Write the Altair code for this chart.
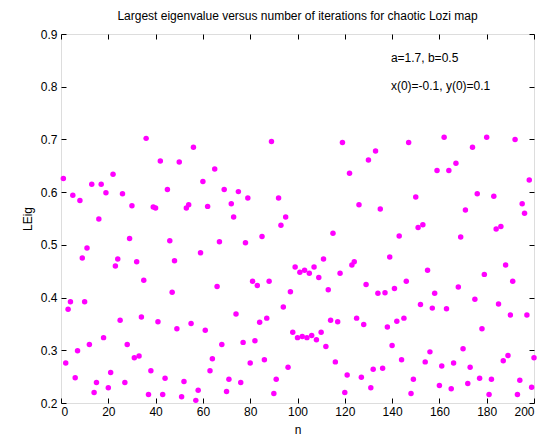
import altair as alt
import pandas as pd

# ---- data ----
n_values = list(range(1, 201))
leig_values = [
    0.626, 0.276, 0.378, 0.392, 0.594, 0.248, 0.299, 0.584, 0.475, 0.392,
    0.494, 0.311, 0.615, 0.220, 0.239, 0.549, 0.615, 0.324, 0.599, 0.229,
    0.258, 0.634, 0.460, 0.473, 0.357, 0.597, 0.239, 0.311, 0.512, 0.574,
    0.286, 0.468, 0.289, 0.363, 0.433, 0.702, 0.216, 0.261, 0.572, 0.570,
    0.354, 0.659, 0.216, 0.247, 0.605, 0.508, 0.410, 0.470, 0.341, 0.657,
    0.212, 0.241, 0.570, 0.576, 0.351, 0.685, 0.205, 0.224, 0.485, 0.620,
    0.338, 0.573, 0.261, 0.284, 0.644, 0.421, 0.506, 0.311, 0.605, 0.222,
    0.245, 0.578, 0.553, 0.369, 0.601, 0.239, 0.315, 0.504, 0.589, 0.276,
    0.431, 0.318, 0.423, 0.353, 0.516, 0.282, 0.361, 0.431, 0.696, 0.218,
    0.245, 0.589, 0.537, 0.382, 0.553, 0.268, 0.411, 0.334, 0.458, 0.324,
    0.448, 0.326, 0.452, 0.324, 0.446, 0.328, 0.458, 0.320, 0.438, 0.334,
    0.473, 0.307, 0.415, 0.357, 0.522, 0.278, 0.354, 0.446, 0.694, 0.220,
    0.253, 0.636, 0.462, 0.468, 0.361, 0.576, 0.249, 0.349, 0.425, 0.661,
    0.229, 0.264, 0.678, 0.408, 0.568, 0.266, 0.409, 0.344, 0.477, 0.309,
    0.417, 0.355, 0.517, 0.282, 0.361, 0.431, 0.694, 0.218, 0.245, 0.591,
    0.533, 0.387, 0.538, 0.278, 0.452, 0.297, 0.380, 0.408, 0.641, 0.233,
    0.270, 0.704, 0.379, 0.641, 0.227, 0.276, 0.655, 0.420, 0.515, 0.303,
    0.566, 0.237, 0.268, 0.685, 0.397, 0.597, 0.247, 0.341, 0.444, 0.704,
    0.216, 0.245, 0.592, 0.530, 0.388, 0.535, 0.280, 0.462, 0.290, 0.367,
    0.431, 0.700, 0.216, 0.243, 0.578, 0.560, 0.367, 0.623, 0.230, 0.286,
]
x_ticks = [0, 20, 40, 60, 80, 100, 120, 140, 160, 180, 200]
y_ticks = [0.2, 0.3, 0.4, 0.5, 0.6, 0.7, 0.8, 0.9]
title_text = "Largest eigenvalue versus number of iterations for chaotic Lozi map"
x_title = "n"
y_title = "LEig"
annotation_lines = ["a=1.7, b=0.5", "x(0)=-0.1, y(0)=0.1"]

df = pd.DataFrame({"n": n_values, "LEig": leig_values})

FONT = "Liberation Sans"
xs = alt.Scale(domain=[0, 200], nice=False, zero=False)
ys = alt.Scale(domain=[0.2, 0.9], nice=False, zero=False)

common_axis = dict(
    tickSize=5, offset=-5, domain=False, grid=False,
    tickColor="black", labelColor="black", titleColor="black",
    labelFont=FONT, titleFont=FONT, labelFontSize=12, titleFontSize=12,
    titleFontWeight="normal",
)

points = alt.Chart(df).mark_circle(size=30, color="#FF00FF", opacity=1).encode(
    x=alt.X("n:Q", scale=xs,
            axis=alt.Axis(orient="bottom", values=x_ticks, format="d",
                          title=x_title, labelPadding=3, titlePadding=7,
                          **common_axis)),
    y=alt.Y("LEig:Q", scale=ys,
            axis=alt.Axis(orient="left", values=y_ticks, format=".1f",
                          title=y_title, labelPadding=4, titlePadding=6,
                          **common_axis)),
)

frame = alt.Chart(df).mark_point(opacity=0).encode(
    x=alt.X("n:Q", scale=xs,
            axis=alt.Axis(orient="top", values=x_ticks, labels=False, title="",
                          **common_axis)),
    y=alt.Y("LEig:Q", scale=ys,
            axis=alt.Axis(orient="right", values=y_ticks, labels=False, title="",
                          **common_axis)),
)

ann1 = alt.Chart().mark_text(align="left", baseline="middle", font=FONT,
                             fontSize=12, color="black").encode(
    x=alt.XDatum(139.5, type="quantitative", scale=xs, axis=None),
    y=alt.YDatum(0.855, type="quantitative", scale=ys, axis=None),
    text=alt.value(annotation_lines[0]),
)
ann2 = alt.Chart().mark_text(align="left", baseline="middle", font=FONT,
                             fontSize=12, color="black").encode(
    x=alt.XDatum(139.5, type="quantitative", scale=xs, axis=None),
    y=alt.YDatum(0.802, type="quantitative", scale=ys, axis=None),
    text=alt.value(annotation_lines[1]),
)

chart = alt.layer(points, frame, ann1, ann2).resolve_axis(
    x="independent", y="independent"
).properties(
    width=473, height=369,
    title=alt.TitleParams(title_text, anchor="middle", font=FONT, fontSize=12,
                          fontWeight="normal", color="black", offset=5),
    autosize=alt.AutoSizeParams(type="none"),
    padding={"left": 53, "top": 26, "right": 10, "bottom": 32},
).configure_view(stroke="black", strokeWidth=1).configure(background="white")

chart.save("out.html", embed_options={"renderer": "svg", "actions": False})
